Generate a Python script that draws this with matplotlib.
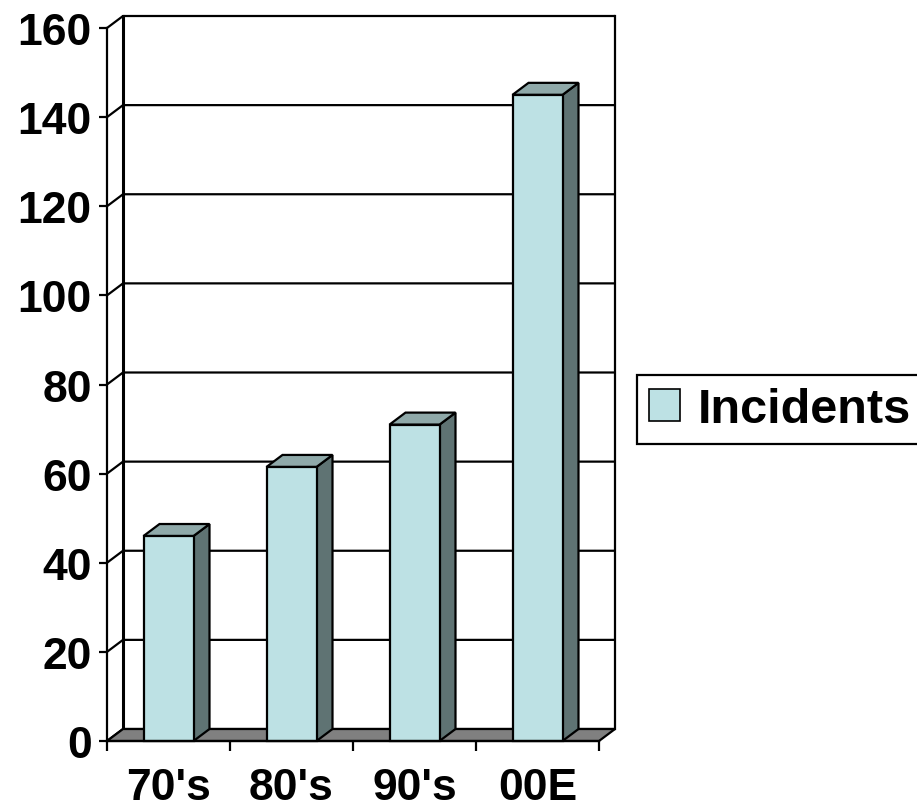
import matplotlib
matplotlib.use('Agg')
import matplotlib.pyplot as plt
from matplotlib.patches import Rectangle, Polygon, Patch

plt.rcParams['font.family'] = ['Liberation Sans', 'DejaVu Sans']
plt.rcParams['font.weight'] = 'bold'

FIGWIDTH = 9.17
FIGHEIGHT = 8.12
FONTSIZE = 32

# data
categories = ["70's", "80's", "90's", "00E"]
incidents = [46, 61.5, 71, 145]
yticks = [0, 20, 40, 60, 80, 100, 120, 140, 160]
series_name = 'Incidents'

FRONT = '#bde1e4'
TOP = '#8fa9a9'
SIDE = '#5f7373'
FLOOR = '#808080'

fig = plt.figure(figsize=(FIGWIDTH, FIGHEIGHT), dpi=100)
# axes = front plane of the 3d box
ax = fig.add_axes([107/917, 70/812, 492/917, 713/812])
ax.set_xlim(-0.5, len(categories) - 0.5)
ax.set_ylim(0, 160)

# depth offset in data units (16 px right, 12 px up)
DX = 16 / 492 * len(categories)
DY = 12 / 713 * 160
x_left, x_right = -0.5, len(categories) - 0.5
lw = 1.6

# back wall + side wall grid
ax.add_patch(Rectangle((x_left + DX, DY), x_right - x_left, 160, facecolor='white',
                       edgecolor='none', zorder=0, clip_on=False))
for g in yticks:
    ax.plot([x_left, x_left + DX, x_right + DX], [g, g + DY, g + DY], color='black',
            lw=lw, zorder=1, clip_on=False, solid_capstyle='butt')
ax.plot([x_left + DX, x_left + DX], [DY, 160 + DY], color='black', lw=2.2, zorder=1, clip_on=False)
ax.plot([x_right + DX, x_right + DX], [DY, 160 + DY], color='black', lw=lw, zorder=1, clip_on=False)

# floor
ax.add_patch(Polygon([(x_left, 0), (x_right, 0), (x_right + DX, DY), (x_left + DX, DY)],
                     closed=True, facecolor=FLOOR, edgecolor='black', lw=lw, zorder=2, clip_on=False))

# bars
w = 50 / 123
for i, v in enumerate(incidents):
    x0, x1 = i - w / 2, i + w / 2
    ax.add_patch(Polygon([(x1, 0), (x1 + DX, DY), (x1 + DX, v + DY), (x1, v)], closed=True,
                         facecolor=SIDE, edgecolor='black', lw=lw, zorder=3, clip_on=False))
    ax.add_patch(Polygon([(x0, v), (x1, v), (x1 + DX, v + DY), (x0 + DX, v + DY)], closed=True,
                         facecolor=TOP, edgecolor='black', lw=lw, zorder=3, clip_on=False))
    ax.add_patch(Rectangle((x0, 0), w, v, facecolor=FRONT, edgecolor='black', lw=lw,
                           zorder=4, clip_on=False))

# axes styling
for s in ['top', 'right']:
    ax.spines[s].set_visible(False)
ax.spines['left'].set_linewidth(lw)
ax.spines['bottom'].set_linewidth(lw)
ax.spines['left'].set_zorder(5)
ax.spines['bottom'].set_zorder(5)
ax.set_facecolor('none')

ax.set_yticks(yticks)
ax.set_yticklabels([str(t) for t in yticks], fontsize=FONTSIZE, fontweight='bold')
ax.tick_params(axis='y', direction='out', length=6, width=lw, pad=5)

ax.set_xticks(range(len(categories)))
ax.set_xticklabels(categories, fontsize=FONTSIZE, fontweight='bold')
ax.set_xticks([x_left + k for k in range(len(categories) + 1)], minor=True)
ax.tick_params(axis='x', which='major', length=0, pad=19)
ax.tick_params(axis='x', which='minor', direction='out', length=7, width=lw)

# legend
leg = fig.legend(handles=[Patch(facecolor=FRONT, edgecolor='black', lw=1.2, label=series_name)],
                 loc='upper left', bbox_to_anchor=(637/917, 1 - 376/812), borderaxespad=0,
                 fancybox=False, frameon=True, edgecolor='black', framealpha=1,
                 prop={'size': 35, 'weight': 'bold'}, handlelength=0.64, handleheight=0.64,
                 handletextpad=0.35, borderpad=0.25)
leg.get_frame().set_linewidth(lw)

fig.savefig('out.png', dpi=100)
